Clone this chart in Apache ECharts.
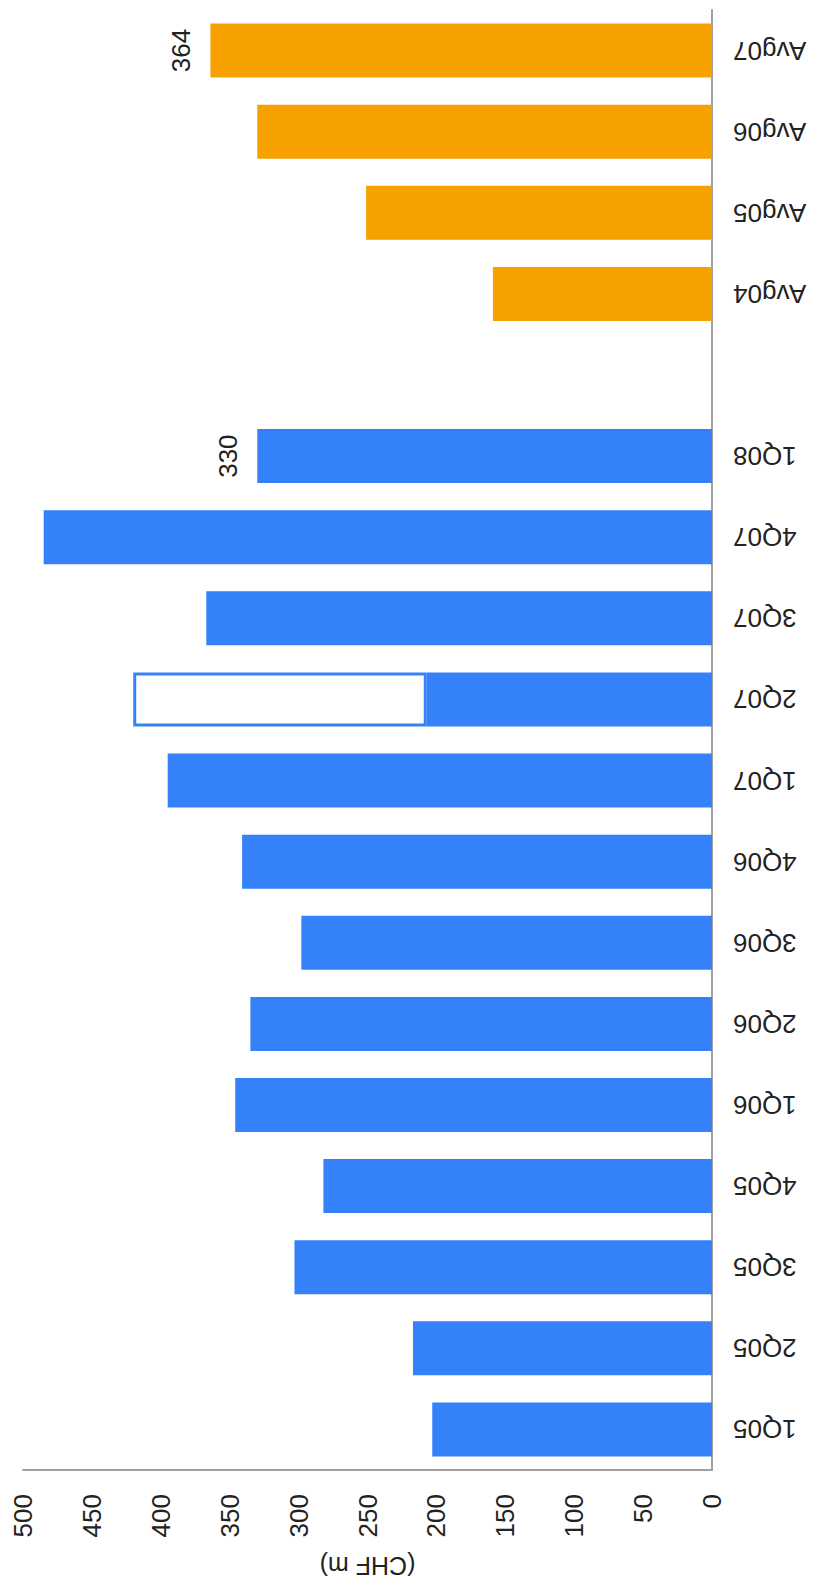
<!DOCTYPE html>
<html>
<head>
<meta charset="utf-8">
<script src="https://cdn.jsdelivr.net/npm/echarts@6/dist/echarts.min.js"></script>
<style>
html,body{margin:0;padding:0;background:#fff;}
#chart{width:819px;height:1583px;}
</style>
</head>
<body>
<div id="chart"></div>
<script>
// Categories (bottom to top on the rotated chart)
const quarters = ['1Q05','2Q05','3Q05','4Q05','1Q06','2Q06','3Q06','4Q06','1Q07','2Q07','3Q07','4Q07','1Q08'];
const quarterValues = [203, 217, 303, 282, 346, 335, 298, 341, 395, 207, 367, 485, 330];
// 2Q07 hollow (outlined) extension on top of its solid part
const hollowCategory = '2Q07';
const hollowValue = 213;
const averages = ['Avg04','Avg05','Avg06','Avg07'];
const averageValues = [159, 251, 330, 364];
const labelledCategories = ['1Q08','Avg07'];
const valueTicks = [0, 50, 100, 150, 200, 250, 300, 350, 400, 450, 500];
const axisName = '(CHF m)';

const categories = quarters.concat([''], averages);

const FONT = 'Liberation Sans, Arial, Helvetica, sans-serif';
const BLUE = '#3581FA';
const ORANGE = '#F6A100';

const valueLabel = {
  show: true, position: 'left', distance: 29, rotate: 90,
  align: 'center', verticalAlign: 'middle',
  fontSize: 26, color: '#222', fontFamily: FONT
};

function withLabel(cat, v) {
  if (labelledCategories.indexOf(cat) >= 0) return { value: v, label: valueLabel };
  return v;
}

const quarterData = categories.map((c, i) => i < quarters.length ? withLabel(c, quarterValues[i]) : null);
const hollowData = categories.map(c => c === hollowCategory ? hollowValue : null);
const avgData = categories.map(c => {
  const j = averages.indexOf(c);
  return j >= 0 ? withLabel(c, averageValues[j]) : null;
});

const chart = echarts.init(document.getElementById('chart'), null, { renderer: 'svg' });
chart.setOption({
  animation: false,
  backgroundColor: '#fff',
  grid: { left: 23, right: 107, top: 10, bottom: 113, containLabel: false, outerBoundsMode: 'none' },
  xAxis: {
    type: 'value',
    inverse: true,
    position: 'bottom',
    min: valueTicks[0],
    max: valueTicks[valueTicks.length - 1],
    interval: valueTicks[1] - valueTicks[0],
    name: axisName,
    nameLocation: 'middle',
    nameGap: 83,
    nameRotate: 180,
    nameTextStyle: { fontSize: 25, color: '#222', fontFamily: FONT },
    axisLine: { show: true, lineStyle: { color: '#a0a0a0', width: 2 } },
    axisTick: { show: false },
    splitLine: { show: false },
    axisLabel: { rotate: 90, margin: 24, fontSize: 26, color: '#222', fontFamily: FONT }
  },
  yAxis: {
    type: 'category',
    position: 'right',
    data: categories,
    axisLine: { show: true, lineStyle: { color: '#a0a0a0', width: 2 } },
    axisTick: { show: false },
    splitLine: { show: false },
    axisLabel: { rotate: 180, margin: 21, interval: 0, fontSize: 26, color: '#222', fontFamily: FONT }
  },
  series: [
    {
      type: 'bar', stack: 'a', barWidth: 54, data: quarterData,
      itemStyle: { color: BLUE }
    },
    {
      type: 'bar', stack: 'a', barWidth: 54, data: hollowData,
      itemStyle: { color: '#ffffff', borderColor: BLUE, borderWidth: 3 }
    },
    {
      type: 'bar', stack: 'a', barWidth: 54, data: avgData,
      itemStyle: { color: ORANGE }
    }
  ]
});
</script>
</body>
</html>
